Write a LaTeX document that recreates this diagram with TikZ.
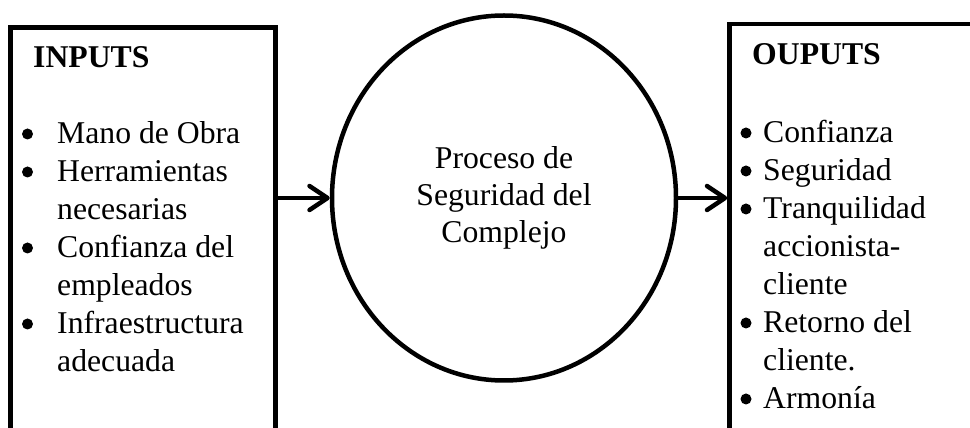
\documentclass[tikz,border=0pt]{standalone}
\usepackage{fontspec}
\setmainfont{Liberation Serif}
\usetikzlibrary{arrows.meta,shapes.geometric}

\tikzset{
  frame/.style={draw,line width=4.5pt,rectangle,inner sep=0pt},
  procbox/.style={draw,line width=4.5pt,ellipse,inner sep=0pt,minimum width=344pt,minimum height=365pt,align=center,font=\fontsize{31.7pt}{37pt}\selectfont},
  head/.style={anchor=base west,inner sep=0pt,font=\fontsize{31.7pt}{38pt}\selectfont\bfseries},
  itemlist/.style={anchor=north west,inner sep=0pt,font=\fontsize{31.7pt}{38pt}\selectfont},
  flow/.style={line width=4.5pt,-{Straight Barb[length=18pt,width=24pt,line cap=round,line join=round]}}
}

\begin{document}
\begin{tikzpicture}[x=1pt,y=1pt]
\useasboundingbox (0,0) rectangle (970,428);
\clip (0,0) rectangle (970,428);
% inputs
\node[frame,minimum width=265pt,minimum height=420.5pt] (inbox) at (143,190.25) {};
\node[head] (intitle) at (33,360) {INPUTS};
\node[itemlist] (inlist) at (20,311.6) {\begin{tabular}{@{}p{37pt}@{}l@{}}
 & Mano de Obra\\
 & Herramientas\\
 & necesarias\\
 & Confianza del\\
 & empleados\\
 & Infraestructura\\
 & adecuada
\end{tabular}};
\foreach \r in {0,1,3,5} {\fill ([shift={(7.5,{-17.6-38*\r})}]inlist.north west) circle (5.5);}
% process
\node[procbox] (proc) at (504,230) {Proceso de\\Seguridad del\\Complejo};
% outputs
\node[frame,minimum width=280.5pt,minimum height=424pt] (outbox) at (869.75,192) {};
\node[head] (outtitle) at (752,363) {OUPUTS};
\node[itemlist] (outlist) at (738,312.6) {\begin{tabular}{@{}p{25pt}@{}l@{}}
 & Confianza\\
 & Seguridad\\
 & Tranquilidad\\
 & accionista-\\
 & cliente\\
 & Retorno del\\
 & cliente.\\
 & Armonía
\end{tabular}};
\foreach \r in {0,1,2,5,7} {\fill ([shift={(8,{-17.6-38*\r})}]outlist.north west) circle (5.5);}
% arrows
\draw[flow] (inbox.east |- proc.west) -- (proc.west);
\draw[flow] (proc.east) -- (outbox.west |- proc.east);
\end{tikzpicture}
\end{document}
